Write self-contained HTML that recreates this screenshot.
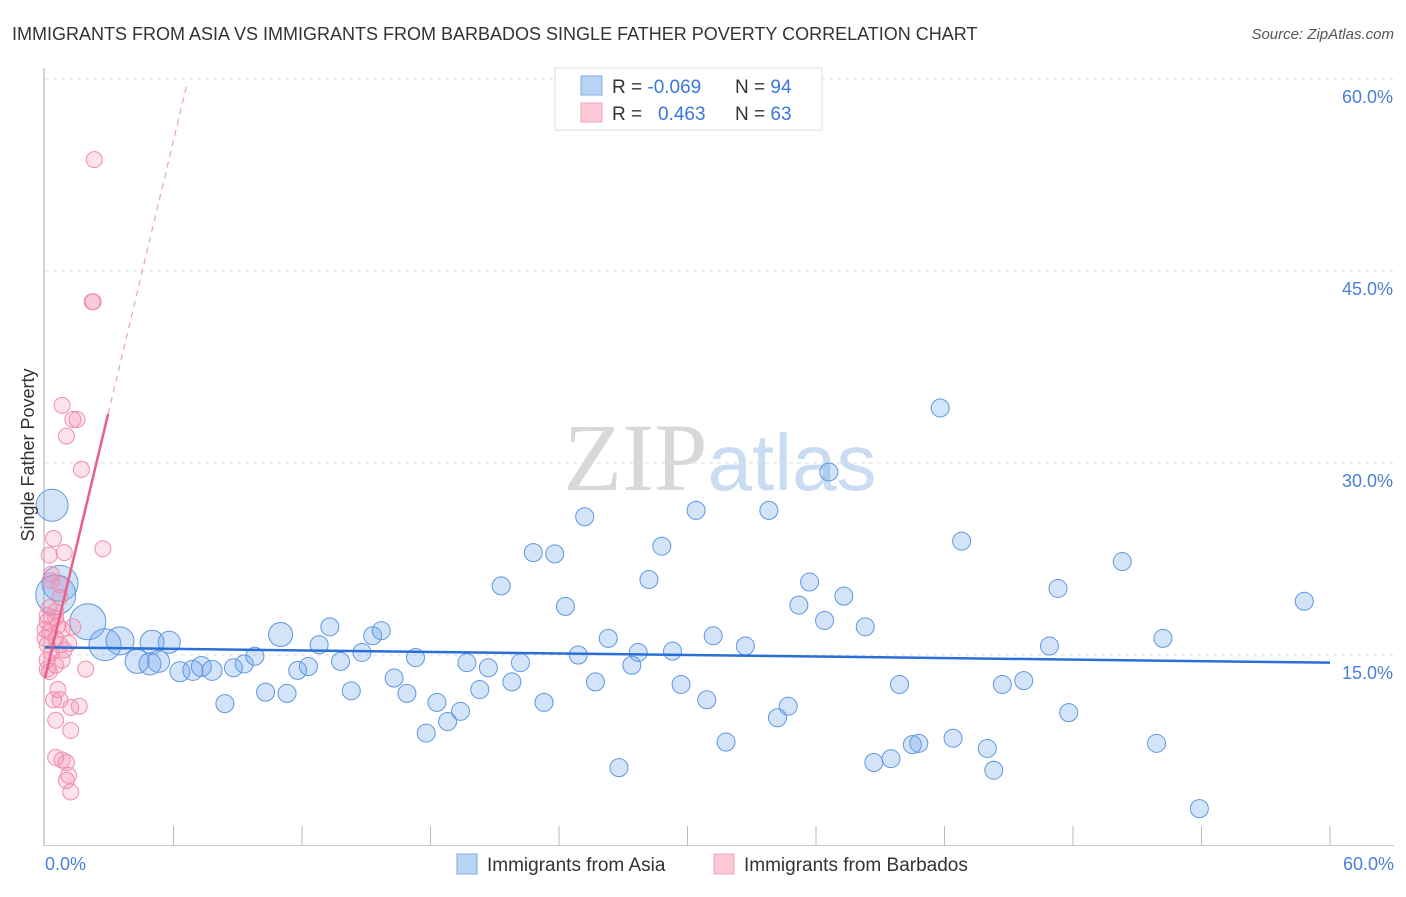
<!DOCTYPE html>
<html><head><meta charset="utf-8"><style>
body{margin:0;background:#fff;font-family:"Liberation Sans",sans-serif}
svg text{font-family:"Liberation Sans",sans-serif}
</style></head><body>
<svg id="chart" width="1406" height="892" xmlns="http://www.w3.org/2000/svg">
<text x="12" y="40" font-size="18" fill="#333">IMMIGRANTS FROM ASIA VS IMMIGRANTS FROM BARBADOS SINGLE FATHER POVERTY CORRELATION CHART</text>
<text x="1394" y="39" font-size="15" fill="#555" font-style="italic" text-anchor="end">Source: ZipAtlas.com</text>
<text x="720" y="490" font-size="96" text-anchor="middle" fill="#ddd"><tspan font-family="Liberation Serif" fill="#d8d8d8">ZIP</tspan><tspan fill="#c9dcf2" font-size="80">atlas</tspan></text>
<g id="grid"></g>
<g id="axes"></g>
<g id="pts"></g>
<g id="lines"></g>
<text transform="translate(34,455) rotate(-90)" font-size="18" fill="#333" text-anchor="middle">Single Father Poverty</text>
<text x="45" y="870" font-size="18" fill="#4a80d8">0.0%</text>
<text x="1394" y="870" font-size="18" fill="#4a80d8" text-anchor="end">60.0%</text>
<g>
<rect x="555" y="68" width="267" height="62" fill="#fff" stroke="#ddd"/>
<rect x="581" y="76" width="21" height="19" fill="#b8d4f5" stroke="#7eaae6"/>
<rect x="581" y="103" width="21" height="19" fill="#fcc8d6" stroke="#f3a3ba"/>
<text x="612" y="93" font-size="19" fill="#333">R = <tspan fill="#3a78d8">-0.069</tspan><tspan x="735">N = </tspan><tspan fill="#3a78d8">94</tspan></text>
<text x="612" y="120" font-size="19" fill="#333">R = <tspan x="658" fill="#3a78d8">0.463</tspan><tspan x="735">N = </tspan><tspan fill="#3a78d8">63</tspan></text>
</g>
<g>
<rect x="457" y="854" width="20" height="20" fill="#b8d4f5" stroke="#7eaae6"/>
<text x="487" y="871" font-size="19" fill="#333">Immigrants from Asia</text>
<rect x="714" y="854" width="20" height="20" fill="#fcc8d6" stroke="#f3a3ba"/>
<text x="744" y="871" font-size="19" fill="#333">Immigrants from Barbados</text>
</g>
</svg>
<script>
const yTicks=[15,30,45,60];
const xTickVals=[6,12,18,24,30,36,42,48,54,60];
const asiaX=[0.33,0.7,0.5,2.0,2.8,3.5,5.0,4.3,4.9,5.3,5.8,6.3,6.9,7.3,7.8,8.4,8.8,9.3,9.8,10.3,11.0,11.3,11.8,12.3,12.8,13.3,13.8,14.3,14.8,15.3,15.7,16.3,16.9,17.3,17.8,18.3,18.8,19.4,19.7,20.3,20.7,21.3,21.8,22.2,22.8,23.3,23.8,24.3,24.9,25.2,25.7,26.3,26.8,27.4,27.7,28.2,28.8,29.3,29.7,30.4,30.9,31.2,31.8,32.7,33.8,34.2,34.7,35.2,35.7,36.4,36.6,37.3,38.3,38.7,39.5,39.9,40.5,40.8,41.8,42.4,42.8,44.0,44.3,44.7,45.7,46.9,47.3,47.8,50.3,51.9,52.2,53.9,58.8];
const asiaY=[26.7,20.6,19.7,17.6,15.8,16.1,16.0,14.5,14.3,14.5,16.0,13.7,13.8,14.1,13.8,11.2,14.0,14.3,14.9,12.1,16.6,12.0,13.8,14.1,15.8,17.2,14.5,12.2,15.2,16.5,16.9,13.2,12.0,14.8,8.9,11.3,9.8,10.6,14.4,12.3,14.0,20.4,12.9,14.4,23.0,11.3,22.9,18.8,15.0,25.8,12.9,16.3,6.2,14.2,15.2,20.9,23.5,15.3,12.7,26.3,11.5,16.5,8.2,15.7,26.3,10.1,11.0,18.9,20.7,17.7,29.3,19.6,17.2,6.6,6.9,12.7,8.0,8.1,34.3,8.5,23.9,7.7,6.0,12.7,13.0,15.7,20.2,10.5,22.3,8.1,16.3,3.0,19.2];
const asiaR=[16,18,20,18,16,14,12,12,11,11,11,10,10,10,10,9,9,9,9,9,12,9,9,9,9,9,9,9,9,9,9,9,9,9,9,9,9,9,9,9,9,9,9,9,9,9,9,9,9,9,9,9,9,9,9,9,9,9,9,9,9,9,9,9,9,9,9,9,9,9,9,9,9,9,9,9,9,9,9,9,9,9,9,9,9,9,9,9,9,9,9,9,9];
const barbX=[2.3,2.2,2.25,0.8,1.3,1.5,1.0,1.7,2.7,0.4,0.9,0.2,0.3,0.7,0.2,0.5,0.1,0.6,0.2,0.5,0.1,0.7,0.3,0.9,0.1,0.5,0.2,0.8,1.3,1.1,1.9,0.6,0.4,0.7,1.6,1.2,0.5,1.2,0.5,0.8,1.0,1.1,1.0,1.2,0.0,0.0,0.1,0.3,0.8,0.5,0.1,0.7];
const barbY=[53.7,42.6,42.6,34.5,33.4,33.4,32.1,29.5,23.3,24.1,23.0,22.8,21.3,20.5,18.7,18.4,17.6,17.3,16.8,16.3,15.8,15.8,15.2,15.4,14.6,14.2,13.7,14.6,17.2,15.9,13.9,12.3,11.5,11.5,11.0,10.9,9.9,9.1,7.0,6.8,6.6,5.6,5.2,4.3,16.3,17.0,18.1,20.8,17.0,17.9,13.9,19.5];
const asiaFit=[15.6,-0.02];
const barbFit=[13.2,7.0];
const X=v=>45+v/60*1285, Y=v=>847-v*12.8;
const NS="http://www.w3.org/2000/svg";
function mk(tag,parent,attrs){const e=document.createElementNS(NS,tag);for(const k in attrs)e.setAttribute(k,attrs[k]);document.getElementById(parent).appendChild(e);return e;}
yTicks.forEach(t=>{
 const g=mk('line','grid',{x1:45,x2:1394,y1:Y(t),y2:Y(t),stroke:'#ddd','stroke-dasharray':'4 4'});
 
 
 const l=mk('text','grid',{x:1393,y:Y(t)+24,'font-size':18,fill:'#4a80d8','text-anchor':'end'});
 l.textContent=t.toFixed(1)+'%';
 
 
});
const ya=mk('line','axes',{x1:44,x2:44,y1:68,y2:846,stroke:'#aaa'});


const xa=mk('line','axes',{x1:44,x2:1394,y1:845.5,y2:845.5,stroke:'#ccc'});


xTickVals.forEach(t=>{
 const k=mk('line','axes',{x1:X(t),x2:X(t),y1:826,y2:846,stroke:'#bbb'});
 
 
});
asiaX.forEach((v,i)=>{
 const c=mk('circle','pts',{cx:X(v),cy:Y(asiaY[i]),r:asiaR[i]||9,fill:'rgba(110,165,235,0.3)',stroke:'#5f97e0','stroke-width':1});
 
 
});
barbX.forEach((v,i)=>{
 const c=mk('circle','pts',{cx:X(v),cy:Y(barbY[i]),r:8,fill:'rgba(245,140,170,0.25)',stroke:'#f08fae','stroke-width':1});
 
 
});
const bl=mk('line','lines',{x1:X(0),y1:Y(asiaFit[0]),x2:X(60),y2:Y(asiaFit[0]+asiaFit[1]*60),stroke:'#2a6fd6','stroke-width':2.5});


const pe=2.95, pd=6.6;
const pl=mk('line','lines',{x1:X(0),y1:Y(barbFit[0]),x2:X(pe),y2:Y(barbFit[0]+barbFit[1]*pe),stroke:'#e8608a','stroke-width':2.5});


const pdl=mk('line','lines',{x1:X(pe),y1:Y(barbFit[0]+barbFit[1]*pe),x2:X(pd),y2:Y(barbFit[0]+barbFit[1]*pd),stroke:'#eea0b8','stroke-width':1.2,'stroke-dasharray':'6 5'});


</script>
</body></html>
